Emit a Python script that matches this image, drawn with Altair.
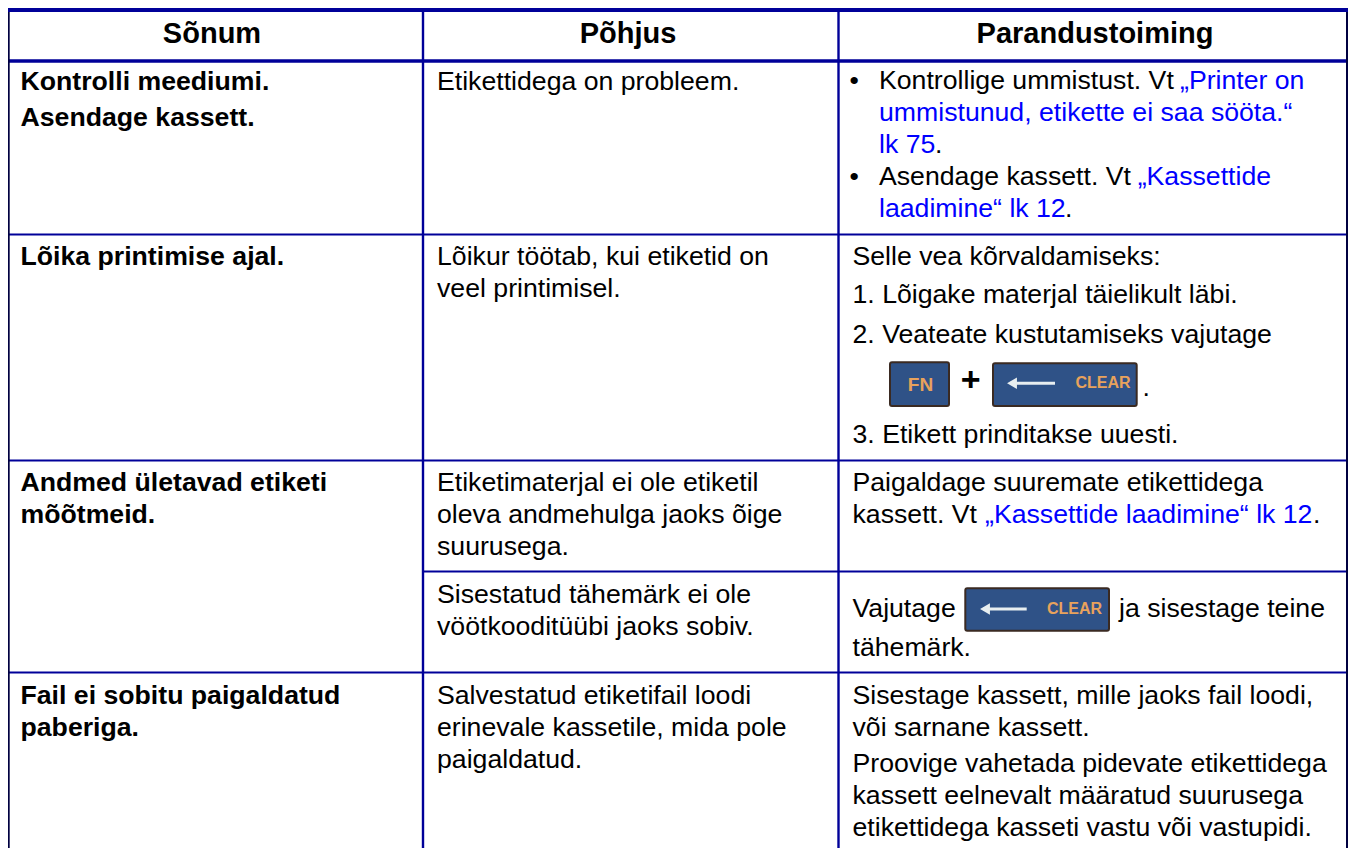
import altair as alt
import pandas as pd

NAVY = "#000099"
EDGE = "#000040"
BLUE = "#0000FF"
INK = "#000000"
SANS = "Liberation Sans"

# table grid (horizontal)
hline_x = [8, 8, 8, 8, 423, 8]
hline_x2 = [1348, 1348, 1348, 1348, 1348, 1348]
hline_y = [10, 61, 234.5, 460.5, 571.5, 672.5]
hline_w = [4, 3.4, 2, 2, 2, 2]
# table grid (vertical)
vline_x = [423, 838.5]
vline_w = [2.4, 2.4]
edge_x = [8.8, 1347]
edge_w = [1.8, 2]
grid_top = 8
grid_bottom = 848

# header cells
head_text = ["Sõnum", "Põhjus", "Parandustoiming"]
head_x = [212, 628, 1095]
head_y = [43.3, 43.3, 43.3]

# bold first column
bold_text = ["Kontrolli meediumi.", "Asendage kassett.", "Lõika printimise ajal.",
             "Andmed ületavad etiketi", "mõõtmeid.", "Fail ei sobitu paigaldatud", "paberiga."]
bold_x = [20.5] * 7
bold_y = [90, 126, 265, 490.7, 522.7, 704, 736]

# regular text runs
body_text = ["Etikettidega on probleem.", "Lõikur töötab, kui etiketid on", "veel printimisel.",
             "Etiketimaterjal ei ole etiketil", "oleva andmehulga jaoks õige", "suurusega.",
             "Sisestatud tähemärk ei ole", "vöötkooditüübi jaoks sobiv.",
             "Salvestatud etiketifail loodi", "erinevale kassetile, mida pole", "paigaldatud.",
             "•", "Kontrollige ummistust. Vt ", ".", "•", "Asendage kassett. Vt ", ".",
             "Selle vea kõrvaldamiseks:", "1. Lõigake materjal täielikult läbi.",
             "2. Veateate kustutamiseks vajutage", ".", "3. Etikett prinditakse uuesti.",
             "Paigaldage suuremate etikettidega", "kassett. Vt ", ".",
             "Vajutage", "ja sisestage teine", "tähemärk.",
             "Sisestage kassett, mille jaoks fail loodi,", "või sarnane kassett.",
             "Proovige vahetada pidevate etikettidega", "kassett eelnevalt määratud suurusega",
             "etikettidega kasseti vastu või vastupidi."]
body_x = [437, 437, 437, 437, 437, 437, 437, 437, 437, 437, 437,
          849.5, 879, 935, 849.5, 879, 1065,
          852.5, 852.5, 852.5, 1142.5, 852.5,
          852.5, 852.5, 1313,
          852.5, 1119, 852.5,
          852.5, 852.5, 852.5, 852.5, 852.5]
body_y = [90, 265, 297, 490.7, 522.7, 554.7, 603, 635, 704, 736, 768,
          88.7, 88.7, 152.7, 184.7, 184.7, 216.7,
          265, 303, 342.7, 396, 442.7,
          490.7, 522.7, 522.7,
          616.7, 616.7, 656,
          704, 736, 772, 804, 836]

# link runs
link_text = ["„Printer on", "ummistunud, etikette ei saa sööta.“", "lk 75",
             "„Kassettide", "laadimine“ lk 12", "„Kassettide laadimine“ lk 12"]
link_x = [1180, 879, 879, 1137.7, 879, 985]
link_y = [88.7, 120.7, 152.7, 184.7, 216.7, 522.7]

# key caps
key_x = [890, 993, 965.3]
key_x2 = [949, 1136.7, 1109]
key_y = [362.3, 363.3, 588.3]
key_y2 = [406, 406, 630.7]
plus_x = [970.7]
plus_y = [391]
arrow_x = [1010, 983]
arrow_x2 = [1055, 1026.7]
arrow_y = [383.3, 609]
tip_x = [1012, 985]
key_label = ["FN", "CLEAR", "CLEAR"]
key_label_x = [920.5, 1103, 1074.5]
key_label_y = [384.8, 383.3, 609]
key_label_size = [19, 16, 16]

X = alt.Scale(domain=[8, 1348], range=[0, 1340], nice=False, zero=False)
Y = alt.Scale(domain=[8, 848], range=[0, 840], nice=False, zero=False)


def qx(f="x"):
    return alt.X(f"{f}:Q", scale=X, axis=None)


def qy(f="y"):
    return alt.Y(f"{f}:Q", scale=Y, axis=None)


def text_layer(words, xs, ys, size, weight="normal", colour=INK, align="left", baseline="alphabetic"):
    df = pd.DataFrame({"t": words, "x": xs, "y": ys})
    return alt.Chart(df).mark_text(
        align=align, baseline=baseline, font=SANS, fontSize=size,
        fontWeight=weight, color=colour, clip=False
    ).encode(x=qx(), y=qy(), text="t:N")


def rule_layer(x, x2, y, y2, w, colour=NAVY):
    df = pd.DataFrame({"x": x, "x2": x2, "y": y, "y2": y2, "w": w})
    return alt.Chart(df).mark_rule(color=colour).encode(
        x=qx(), x2="x2:Q", y=qy(), y2="y2:Q",
        strokeWidth=alt.StrokeWidth("w:Q", scale=None))


hlines = rule_layer(hline_x, hline_x2, hline_y, hline_y, hline_w)
vlines = rule_layer(vline_x, vline_x, [grid_top] * 2, [grid_bottom] * 2, vline_w)
edges = rule_layer(edge_x, edge_x, [grid_top + 4] * 2, [grid_bottom] * 2, edge_w, EDGE)

keys = alt.Chart(pd.DataFrame({"x": key_x, "x2": key_x2, "y": key_y, "y2": key_y2})).mark_rect(
    fill="#2F5287", stroke="#3A2A22", strokeWidth=2, cornerRadius=2
).encode(x=qx(), x2="x2:Q", y=qy(), y2="y2:Q")

arrows = rule_layer(arrow_x, arrow_x2, arrow_y, arrow_y, [3, 3], "#E8EEF0")
tips = alt.Chart(pd.DataFrame({"x": tip_x, "y": arrow_y})).mark_point(
    shape="triangle-left", filled=True, color="#E8EEF0", size=130, opacity=1
).encode(x=qx(), y=qy())

labels = alt.Chart(pd.DataFrame({"t": key_label, "x": key_label_x, "y": key_label_y, "s": key_label_size})).mark_text(
    font=SANS, fontWeight="bold", color="#E8A25C",
    align="center", baseline="middle"
).encode(x=qx(), y=qy(), text="t:N", size=alt.Size("s:Q", scale=None))

chart = alt.layer(
    hlines, vlines, edges, keys, arrows, tips, labels,
    text_layer(head_text, head_x, head_y, 29, "bold", align="center"),
    text_layer(bold_text, bold_x, bold_y, 26.67, "bold"),
    text_layer(body_text, body_x, body_y, 26.67),
    text_layer(link_text, link_x, link_y, 26.67, colour=BLUE),
    text_layer(["+"], plus_x, plus_y, 34, "bold", align="center"),
).properties(
    width=1340, height=840, padding=0, background="white",
    autosize=alt.AutoSizeParams(type="none")
).configure_view(stroke=None)

chart.save("out.html", embed_options={"renderer": "svg", "actions": False})
